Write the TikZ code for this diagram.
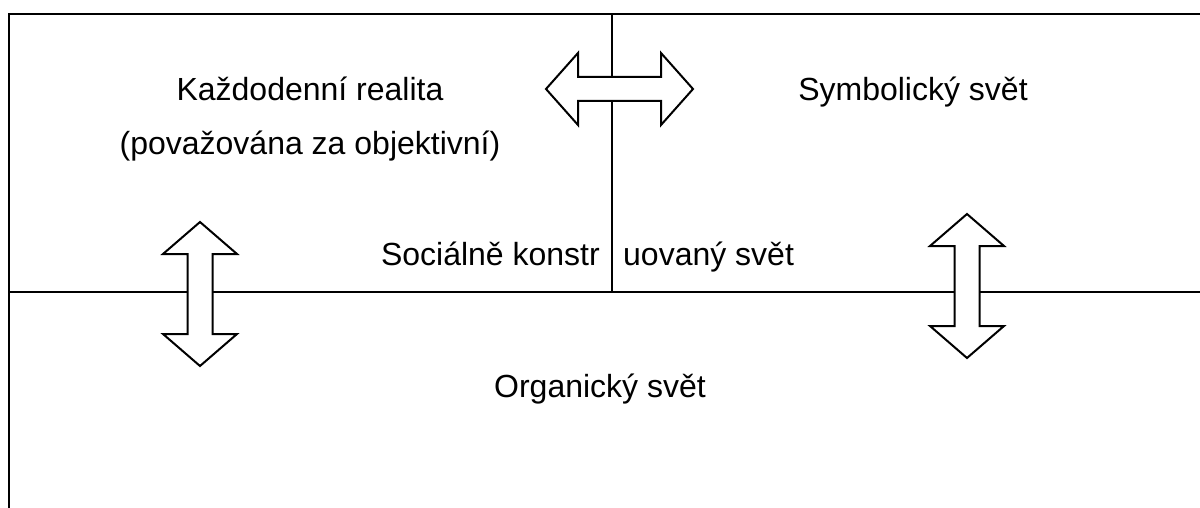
\documentclass[tikz,border=0pt]{standalone}
\usepackage{fontspec}
\setmainfont{Liberation Sans}
\usepackage{tikz}
\tikzstyle{plane} = [x = 1pt, y = -1pt]
\tikzstyle{frameLine} = [color=black, line width=2.4pt]
\tikzstyle{dividerLine} = [color=black, line width=1.7pt]
\tikzstyle{blockArrow} = [draw=black, fill=white, line width=2pt, line join=miter]
\tikzstyle{worldText} = [font=\fontsize{32}{38}\selectfont, inner sep=0pt]
\newcommand{\headLength}{32}
\newcommand{\headHalf}{37}
\newcommand{\shaftHalf}{12.5}
\newcommand{\verticalDoubleArrow}[3]{\filldraw [blockArrow] (#1, #2) -- (#1 + \headHalf, #2 + \headLength) -- (#1 + \shaftHalf, #2 + \headLength) -- (#1 + \shaftHalf, #3 - \headLength) -- (#1 + \headHalf, #3 - \headLength) -- (#1, #3) -- (#1 - \headHalf, #3 - \headLength) -- (#1 - \shaftHalf, #3 - \headLength) -- (#1 - \shaftHalf, #2 + \headLength) -- (#1 - \headHalf, #2 + \headLength) -- cycle;}
\newcommand{\horizontalDoubleArrow}[3]{\filldraw [blockArrow] (#2, #1) -- (#2 + \headLength, #1 - 36) -- (#2 + \headLength, #1 - 12) -- (#3 - \headLength, #1 - 12) -- (#3 - \headLength, #1 - 36) -- (#3, #1) -- (#3 - \headLength, #1 + 36) -- (#3 - \headLength, #1 + 12) -- (#2 + \headLength, #1 + 12) -- (#2 + \headLength, #1 + 36) -- cycle;}
\begin{document}
\begin{tikzpicture}[plane]
  \useasboundingbox (0,0) rectangle (1200,508);
  \draw [frameLine] (1200,14) -- (9,14) -- (9,508);
  \draw [frameLine] (9,292) -- (1200,292);
  \draw [dividerLine] (612,14) -- (612,292);

  \horizontalDoubleArrow{89}{546}{693}
  \verticalDoubleArrow{200}{222}{366}
  \verticalDoubleArrow{967}{214}{358}

  \node [worldText, anchor=base] (everydayReality) at (310,101) {Každodenní realita};
  \node [worldText, anchor=base] (objectiveNote) at (310,155) {(považována za objektivní)};
  \node [worldText, anchor=base] (symbolicWorld) at (913,101) {Symbolický svět};
  \node [worldText, anchor=base east] (socialLeft) at (600,265) {Sociálně konstr};
  \node [worldText, anchor=base west] (socialRight) at (623,265) {uovaný svět};
  \node [worldText, anchor=base] (organicWorld) at (600,397) {Organický svět};
\end{tikzpicture}
\end{document}
